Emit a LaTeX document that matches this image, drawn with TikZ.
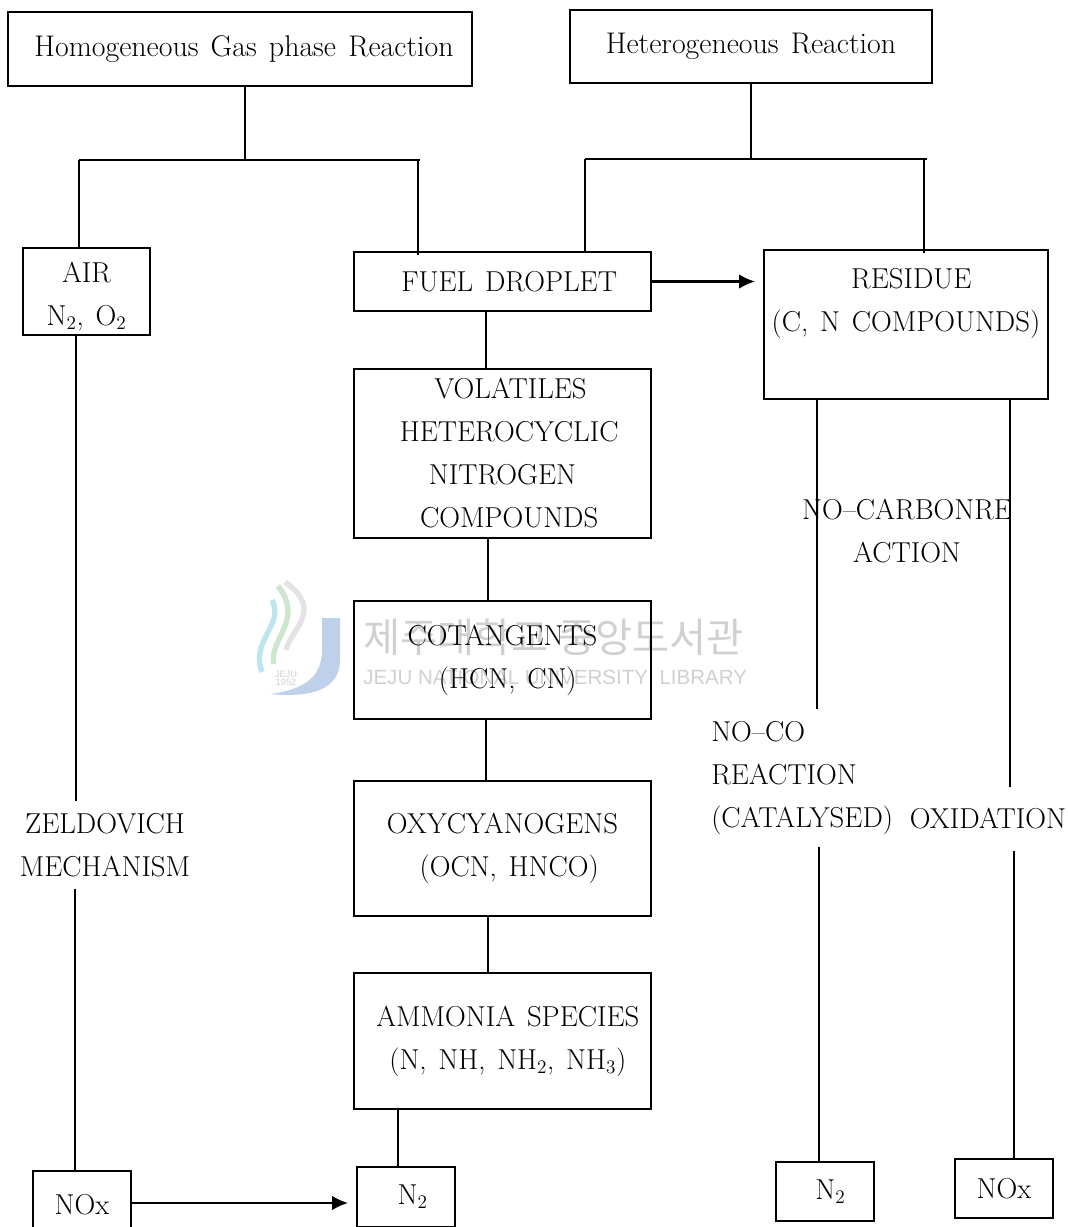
\documentclass[tikz,border=0pt]{standalone}
\usepackage{fontspec}
\setmainfont{Latin Modern Roman}[WordSpace=1.35]
\newfontfamily\kofont{Noto Sans CJK KR}
\newfontfamily\wmfont{Liberation Sans}
\usetikzlibrary{arrows.meta}
\definecolor{wmgray}{RGB}{208,208,208}
\definecolor{wmblue}{RGB}{190,208,234}
\definecolor{wmgreen}{RGB}{205,230,205}
\definecolor{wmsky}{RGB}{190,228,240}
\tikzset{
  flowtext/.style={font=\fontsize{21.6}{32.25}\selectfont, align=center},
  flowbox/.style={flowtext, draw, line width=1.9pt, inner sep=0pt, outer sep=0pt},
  wh/.style 2 args={minimum width=#1*0.75pt, minimum height=#2*0.75pt},
  freelabel/.style={flowtext, inner xsep=0pt, inner ysep=9pt},
  conn/.style={line width=1.6pt},
  flowarrow/.style={line width=1.6pt, -{Latex[length=12pt,width=11pt]}},
}
\begin{document}
\begin{tikzpicture}[x=0.75pt, y=-0.75pt]
  \useasboundingbox (0,0) rectangle (1067,1227);
  % watermark
  \fill[wmblue] (322,618) -- (340,618) -- (340,660) .. controls (340,690) and (310,698) .. (270,694)
    .. controls (300,690) and (322,680) .. (322,650) -- cycle;
  \draw[wmsky, line width=4pt] (272,600) .. controls (285,625) and (250,640) .. (262,672);
  \draw[wmgreen, line width=4pt] (278,586) .. controls (305,620) and (268,640) .. (274,664);
  \draw[wmgray!60, line width=4pt] (285,582) .. controls (325,610) and (290,630) .. (286,650);
  \node[text=wmgray, font=\wmfont\fontsize{7}{8}\selectfont, align=center] (wmlogo) at (286,678) {JEJU\\[-2pt]1952};
  \node[text=wmgray, font=\kofont\fontsize{30.3}{32}\selectfont, anchor=west, inner sep=0pt] (wmko) at (363,637) {제주대학교 중앙도서관};
  \node[text=wmgray, font=\wmfont\fontsize{15.4}{16}\selectfont, anchor=west, inner sep=0pt] (wmen) at (363,677) {JEJU NATIONAL UNIVERSITY\ \ LIBRARY};

  % top row
  \node[flowbox, wh={464}{74}, font=\fontsize{22.4}{32.25}\selectfont] (homog) at (240,49) {\hspace*{6pt}Homogeneous Gas phase Reaction};
  \node[flowbox, wh={362}{73}, font=\fontsize{22.4}{32.25}\selectfont] (heter) at (751,46.5) {Heterogeneous Reaction};

  % middle column
  \node[flowbox, wh={127}{87}] (air) at (86.5,291.5) {\mbox{}\\[-10pt]AIR\\N$_2$, O$_2$};
  \node[flowbox, wh={297}{59}] (fuel) at (502.5,281.5) {\hspace*{10pt}FUEL DROPLET};
  \node[flowbox, wh={284}{149}] (residue) at (906,324.5) {\hspace*{8pt}RESIDUE\\(C, N COMPOUNDS)\\[4.5pt]\mbox{}};
  \node[flowbox, wh={297}{169}] (vol) at (502.5,453.5) {\hspace*{12pt}VOLATILES\\\hspace*{10pt}HETEROCYCLIC\\NITROGEN\\\hspace*{10pt}COMPOUNDS};
  \node[flowbox, wh={297}{118}] (cot) at (502.5,660) {COTANGENTS\\\hspace*{8pt}(HCN, CN)};
  \node[flowbox, wh={297}{135}] (oxy) at (502.5,848.5) {OXYCYANOGENS\\\hspace*{10pt}(OCN, HNCO)};
  \node[flowbox, wh={297}{136}] (amm) at (502.5,1041) {\hspace*{8pt}AMMONIA SPECIES\\\hspace*{8pt}(N, NH, NH$_2$, NH$_3$)};

  % bottom row
  \node[flowbox, wh={98}{68}] (noxl) at (82,1205) {NOx};
  \node[flowbox, wh={98}{60}] (ntwol) at (406,1197) {\hspace*{10pt}N$_2$};
  \node[flowbox, wh={98}{59}] (ntwor) at (825,1191.5) {\hspace*{8pt}N$_2$};
  \node[flowbox, wh={98}{59}] (noxr) at (1004,1188.5) {NOx};

  % free labels
  \node[freelabel] (zeld) at (105,845) {ZELDOVICH\\MECHANISM};
  \node[freelabel, align=left, anchor=west] (noco) at (711,778) {NO--CO\\REACTION\\(CATALYSED)};
  \node[freelabel, inner ysep=16pt] (oxid) at (988,819) {OXIDATION};
  \node[flowtext, inner sep=0pt] (ncarb) at (907,531) {NO--CARBONRE\\ACTION};

  % junctions
  \coordinate (barhomog) at (245,160);
  \coordinate (barhomogl) at (79,160);
  \coordinate (barhomogr) at (420,160);
  \coordinate (barheter) at (751,159);
  \coordinate (barheterl) at (585,159);
  \coordinate (barheterr) at (927,159);

  \draw[conn] (homog.south -| barhomog) -- (barhomog);
  \draw[conn] (barhomogl) -- (barhomogr);
  \draw[conn] (barhomogl) -- (air.north -| barhomogl);
  \draw[conn] (418,160) -- (418,255);
  \draw[conn] (barheter |- heter.south) -- (barheter);
  \draw[conn] (barheterl) -- (barheterr);
  \draw[conn] (barheterl) -- (fuel.north -| barheterl);
  \draw[conn] (924,159) -- (924,253);

  \draw[conn] (fuel.south -| 486,0) -- (vol.north -| 486,0);
  \draw[conn] (vol.south -| 488,0) -- (cot.north -| 488,0);
  \draw[conn] (cot.south -| 486,0) -- (oxy.north -| 486,0);
  \draw[conn] (oxy.south -| 488,0) -- (amm.north -| 488,0);
  \draw[conn] (amm.south -| 398,0) -- (ntwol.north -| 398,0);

  \draw[conn] (air.south -| 76,0) -- (zeld.north -| 76,0);
  \draw[conn] (zeld.south -| 75,0) -- (noxl.north -| 75,0);
  \draw[conn] (residue.south -| 817,0) -- (noco.north -| 817,0);
  \draw[conn] (noco.south -| 819,0) -- (ntwor.north -| 819,0);
  \draw[conn] (residue.south -| 1010,0) -- (oxid.north -| 1010,0);
  \draw[conn] (oxid.south -| 1014,0) -- (noxr.north -| 1014,0);

  \draw[flowarrow] (fuel.east) -- (fuel.east -| 755,0);
  \draw[flowarrow] (noxl.east |- 0,1203) -- (348,1203);
\end{tikzpicture}
\end{document}
